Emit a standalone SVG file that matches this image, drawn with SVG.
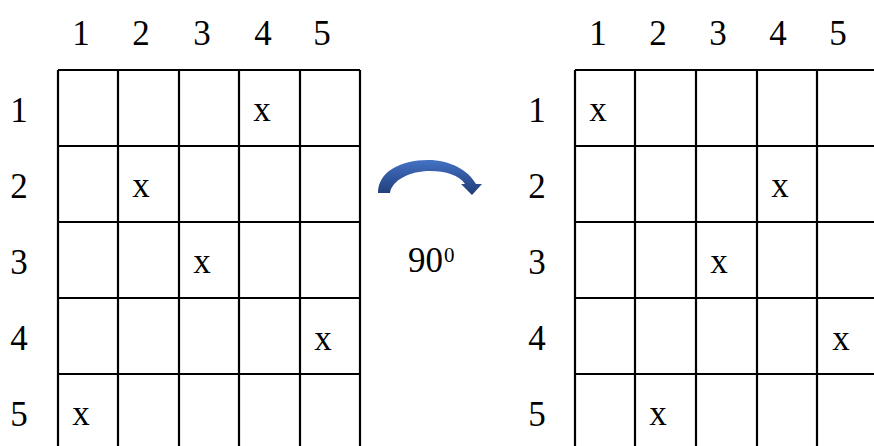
<svg xmlns="http://www.w3.org/2000/svg" width="874" height="446" viewBox="0 0 874 446">
<style>
.g{stroke:#000;stroke-width:2.2;fill:none}
.t{font-family:"Liberation Serif","Times New Roman",serif;font-size:35px;fill:#000;text-anchor:middle}
.s{font-family:"Liberation Serif","Times New Roman",serif;font-size:21px;fill:#000}
</style>
<defs>
<linearGradient id="ag" x1="0" y1="0" x2="0" y2="1">
<stop offset="0" stop-color="#4472C4"/>
<stop offset="1" stop-color="#203C78"/>
</linearGradient>
</defs>
<rect width="874" height="446" fill="#fff"/>
<g id="left-grid">
<path class="g" d="M58,70H360M58,146H360M58,222H360M58,298H360M58,374H360M58,70V446M118,70V446M179,70V446M239,70V446M300,70V446M360,70V446"/>
<g class="t">
<text x="81" y="45">1</text><text x="141" y="45">2</text><text x="202" y="45">3</text><text x="263" y="45">4</text><text x="322" y="45">5</text>
<text x="19" y="122">1</text><text x="19" y="198">2</text><text x="19" y="274">3</text><text x="19" y="350">4</text><text x="19" y="426">5</text>
<text x="262" y="121">x</text><text x="141" y="197">x</text><text x="202" y="273">x</text><text x="323" y="350">x</text><text x="81" y="425">x</text>
</g>
</g>
<g id="right-grid">
<path class="g" d="M575,70H878M575,146H878M575,222H878M575,298H878M575,374H878M575,70V446M635,70V446M696,70V446M757,70V446M817,70V446"/>
<g class="t">
<text x="598" y="45">1</text><text x="658" y="45">2</text><text x="718" y="45">3</text><text x="778" y="45">4</text><text x="838" y="45">5</text>
<text x="537" y="122">1</text><text x="537" y="198">2</text><text x="537" y="274">3</text><text x="537" y="350">4</text><text x="537" y="426">5</text>
<text x="598" y="121">x</text><text x="780" y="197">x</text><text x="719" y="273">x</text><text x="841" y="350">x</text><text x="658" y="425">x</text>
</g>
</g>
<g id="rotation">
<path fill="url(#ag)" d="M378,193 C378,172 400,160 428,160 C450,160 468,170 476,184 L482,184 L472,195 L461,184 L465,184 C459,175 446,171 430,171 C410,171 392,180 390,193 Z"/>
<text class="t" x="425.5" y="272">90</text>
<text class="s" x="444" y="262">0</text>
</g>
</svg>
